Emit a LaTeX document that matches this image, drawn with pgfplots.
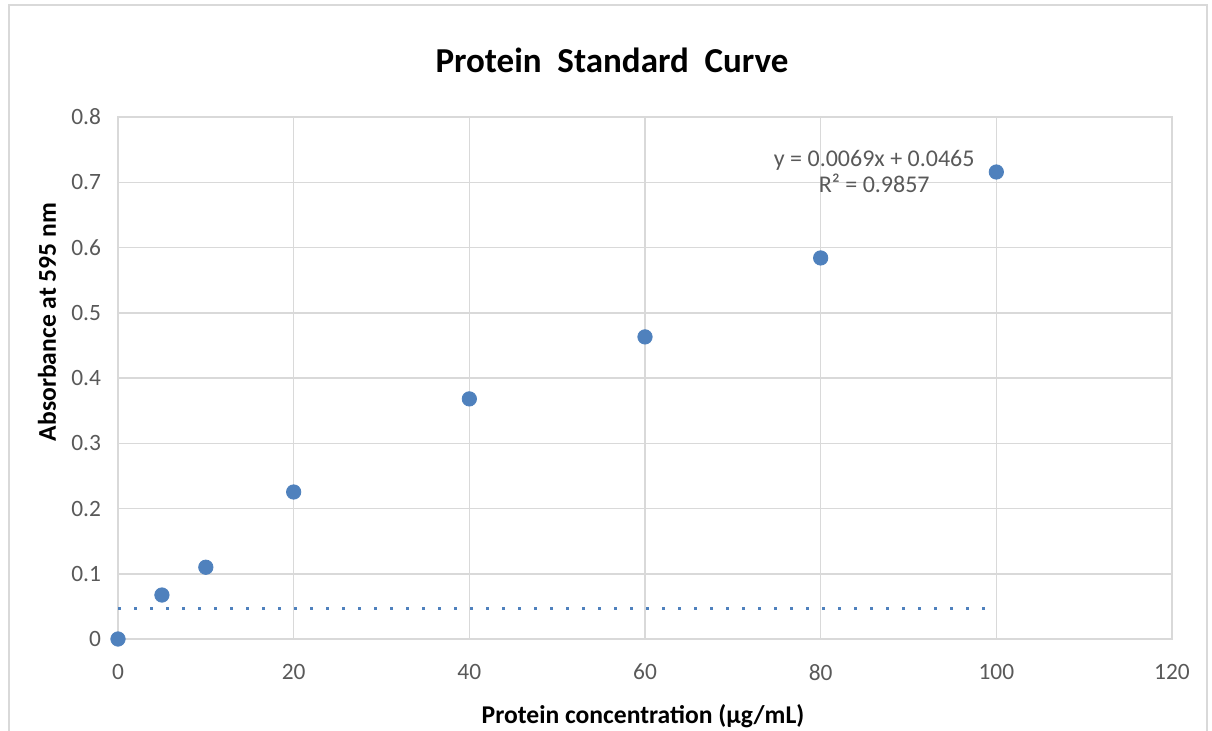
\documentclass[border=0pt]{standalone}
\usepackage{pgfplots}
\pgfplotsset{compat=1.18}
\usepackage{fontspec}
\setmainfont{Carlito}
\definecolor{pt}{RGB}{79,129,189}
\definecolor{gr}{RGB}{217,217,217}
\definecolor{tx}{RGB}{89,89,89}

\begin{document}
\begin{tikzpicture}[x=0.5pt,y=0.5pt]
\useasboundingbox (0,0) rectangle (1212,730);
\begin{scope}
  \clip (0,0) rectangle (1212,730);
  \draw[gr, line width=0.8pt] (9,-20) -- (9,725) -- (1207,725) -- (1207,-20);
\end{scope}
\begin{axis}[
  at={(59pt,45.5pt)}, anchor=south west,
  scale only axis,
  width=527pt, height=261pt,
  xmin=0, xmax=120, ymin=0, ymax=0.8,
  xtick={0,20,...,120},
  ytick={0,0.1,...,0.8},
  yticklabel style={/pgf/number format/fixed, /pgf/number format/precision=1},
  /pgf/number format/assume math mode=true,
  grid=major,
  grid style={gr, line width=0.75pt},
  axis line style={gr, line width=0.75pt},
  tick style={draw=none},
  ticklabel style={font=\fontsize{11.7}{13}\selectfont, text=tx},
  xticklabel style={yshift=-9pt},
  yticklabel style={xshift=-5pt},
  clip=false,
]
\addplot[draw=none, mark=*, mark size=3.6pt, mark options={fill=pt, draw=pt}]
  coordinates {(0,0)(5,0.0674)(10,0.110)(20,0.2253)(40,0.368)(60,0.463)(80,0.584)(100,0.7157)};
\addplot[pt, line width=1.5pt, dash pattern=on 1.5pt off 6.5pt]
  coordinates {(0,0.0465)(98.8,0.0465)};
\node[align=center, text=tx, font=\fontsize{12}{13}\selectfont] at (axis cs:86.1,0.717)
  {y = 0.0069x + 0.0465\\R² = 0.9857};
\end{axis}
\node[font=\bfseries\fontsize{17.5}{19}\selectfont] at (612,670) {Protein\ \ Standard\ \ Curve};
\node[font=\bfseries\fontsize{12.8}{14}\selectfont, rotate=90] at (47,408) {Absorbance at 595 nm};
\node[font=\bfseries\fontsize{12.8}{14}\selectfont] at (643,14) {Protein concentration (µg/mL)};
\end{tikzpicture}
\end{document}
